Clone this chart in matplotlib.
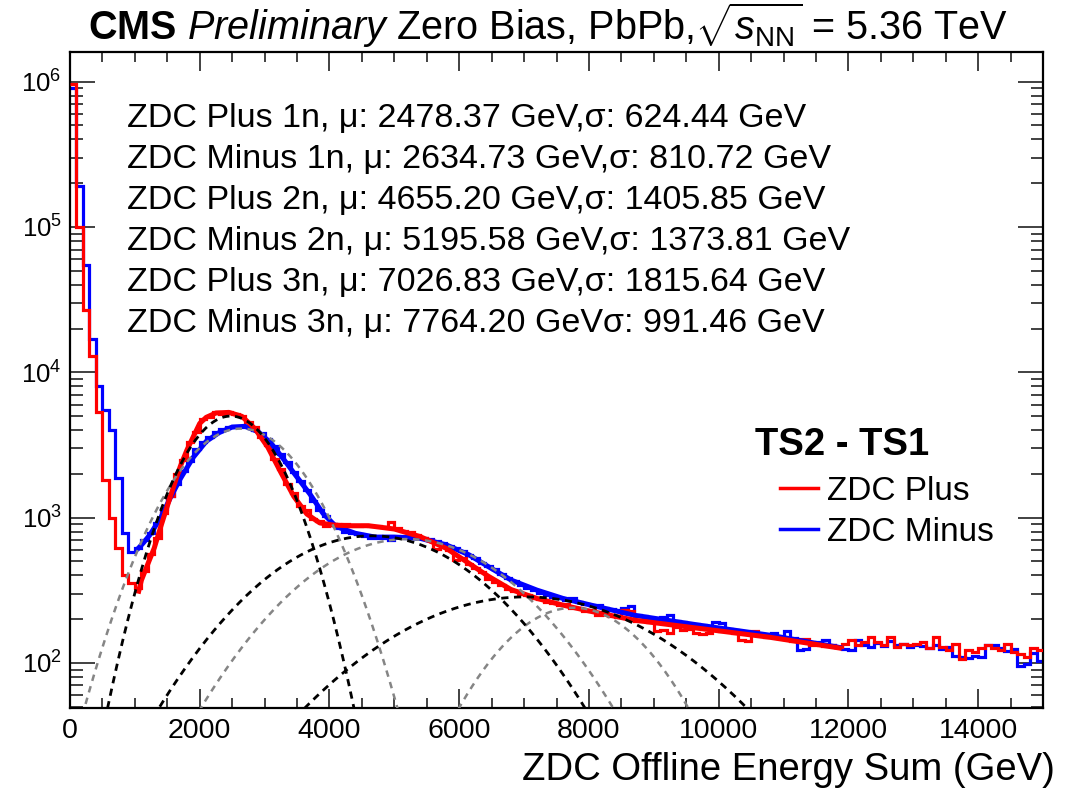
import numpy as np
import matplotlib
matplotlib.use("Agg")
import matplotlib.pyplot as plt
from matplotlib.lines import Line2D
from matplotlib.ticker import MultipleLocator, LogLocator, NullFormatter

plt.rcParams['font.family'] = ['Liberation Sans', 'DejaVu Sans']
plt.rcParams['mathtext.fontset'] = 'custom'
plt.rcParams['mathtext.rm'] = 'Liberation Sans'
plt.rcParams['mathtext.it'] = 'Liberation Sans:italic'
plt.rcParams['mathtext.bf'] = 'Liberation Sans:bold'

# histogram: 100 GeV bins from 0 to 15000 GeV
bin_edges = np.arange(0, 15001, 100)

plus_counts = [
    9.6e5, 1.0e5, 2.7e4, 1.29e4, 5300, 1820, 990, 615, 403, 353,
    330, 430, 560, 720, 1080, 1400, 2000, 2500, 3300, 3900,
    4750, 4950, 5300, 5200, 5350, 5150, 5000, 4550, 4200, 3600,
    3150, 2550, 2150, 1700, 1480, 1200, 1120, 980, 950, 880,
    910, 870, 900, 880, 870, 890, 875, 880, 860, 930,
    850, 810, 800, 760, 730, 700, 610, 640, 600, 510,
    530, 480, 450, 420, 380, 360, 345, 325, 315, 300,
    295, 278, 275, 262, 258, 250, 255, 238, 240, 228,
    230, 215, 225, 212, 208, 232, 228, 196, 198, 190,
    166, 168, 162, 178, 168, 170, 160, 158, 160, 170,
    165, 168, 160, 144, 142, 166, 156, 150, 152, 148,
    146, 142, 147, 147, 134, 136, 130, 132, 128, 136,
    143, 133, 140, 151, 140, 133, 151, 129, 136, 133,
    136, 140, 126, 151, 129, 122, 136, 107, 122, 119,
    126, 133, 126, 122, 136, 119, 116, 110, 126, 122,
]

minus_counts = [
    9.0e5, 1.9e5, 5.5e4, 1.7e4, 8100, 5500, 4000, 1880, 780, 580,
    620, 700, 780, 920, 1150, 1420, 1700, 2100, 2450, 2950,
    3300, 3600, 3900, 4050, 4200, 4250, 4220, 4250, 4000, 3800,
    3500, 3100, 2750, 2400, 2050, 1800, 1550, 1300, 1120, 1020,
    900, 850, 800, 780, 770, 745, 730, 720, 725, 700,
    740, 745, 735, 730, 720, 715, 690, 670, 640, 615,
    590, 555, 530, 490, 465, 440, 410, 385, 365, 345,
    330, 318, 305, 295, 285, 280, 270, 278, 262, 255,
    250, 252, 240, 235, 230, 240, 245, 215, 210, 205,
    200, 208, 215, 195, 192, 180, 185, 183, 180, 190,
    188, 172, 168, 163, 160, 158, 155, 156, 160, 152,
    165, 148, 122, 125, 138, 140, 145, 132, 128, 124,
    122, 145, 133, 128, 138, 130, 142, 132, 136, 128,
    133, 130, 126, 134, 124, 128, 112, 110, 108, 112,
    110, 133, 132, 126, 120, 124, 96, 98, 118, 104,
]

# total fit curves
plus_fit_e = [1050, 1100, 1200, 1300, 1400, 1500, 1600, 1700, 1800, 1900, 2000, 2100,
              2250, 2450, 2650, 2850, 3050, 3250, 3450, 3650, 3850, 4050, 4300, 4600,
              5000, 5400, 5800, 6150, 6450, 6800, 7200, 7600, 8000, 8700, 9700, 10800, 11900]
plus_fit_v = [300, 370, 480, 620, 870, 1200, 1650, 2250, 2900, 3600, 4450, 4900,
              5250, 5300, 4980, 4100, 3050, 2050, 1400, 1060, 920, 890, 880, 880,
              835, 740, 615, 485, 395, 320, 278, 250, 228, 197, 173, 150, 126]

minus_fit_e = [1030, 1130, 1230, 1400, 1550, 1700, 1900, 2100, 2300, 2500, 2700, 2900,
               3100, 3300, 3500, 3700, 3900, 4100, 4400, 4700, 5000, 5400, 5800, 6150,
               6450, 6800, 7200, 7600, 8000, 8700, 9700, 10800, 11900]
minus_fit_v = [600, 670, 760, 1000, 1380, 1850, 2600, 3350, 3850, 4200, 4250, 3900,
               3250, 2500, 1900, 1450, 1070, 870, 780, 735, 735, 720, 650, 555,
               460, 372, 317, 278, 252, 213, 182, 155, 127]

plus_mu = [2478.37, 4655.20, 7026.83]
plus_sigma = [624.44, 1405.85, 1815.64]
plus_amp = [5000, 750, 285]
minus_mu = [2634.73, 5195.58, 7764.20]
minus_sigma = [810.72, 1373.81, 991.46]
minus_amp = [4100, 712, 240]

labels = [
    "ZDC Plus 1n, \u03bc: 2478.37 GeV,\u03c3: 624.44 GeV",
    "ZDC Minus 1n, \u03bc: 2634.73 GeV,\u03c3: 810.72 GeV",
    "ZDC Plus 2n, \u03bc: 4655.20 GeV,\u03c3: 1405.85 GeV",
    "ZDC Minus 2n, \u03bc: 5195.58 GeV,\u03c3: 1373.81 GeV",
    "ZDC Plus 3n, \u03bc: 7026.83 GeV,\u03c3: 1815.64 GeV",
    "ZDC Minus 3n, \u03bc: 7764.20 GeV\u03c3: 991.46 GeV",
]

W, H = 1074, 795
fig = plt.figure(figsize=(W / 100, H / 100), dpi=100)
ax = fig.add_axes([70 / W, 1 - 708 / H, (1043 - 70) / W, (708 - 52) / H])


def fx(px):
    return px / W


def fy(py):
    return 1 - py / H


ax.stairs(minus_counts, bin_edges, baseline=None, color="blue", lw=2.3, zorder=2)
ax.stairs(plus_counts, bin_edges, baseline=None, color="red", lw=2.3, zorder=3)
ax.plot(minus_fit_e, minus_fit_v, color="blue", lw=3.6, zorder=4, solid_capstyle="butt")
ax.plot(plus_fit_e, plus_fit_v, color="red", lw=3.6, zorder=5, solid_capstyle="butt")

xx = np.linspace(0, 15000, 1500)
for mu, s, a in zip(minus_mu, minus_sigma, minus_amp):
    ax.plot(xx, a * np.exp(-0.5 * ((xx - mu) / s) ** 2), color="#858585",
            lw=1.8, ls=(0, (2.6, 2.2)), zorder=6)
for mu, s, a in zip(plus_mu, plus_sigma, plus_amp):
    ax.plot(xx, a * np.exp(-0.5 * ((xx - mu) / s) ** 2), color="black",
            lw=2.0, ls=(0, (2.6, 2.0)), zorder=7)

ax.set_yscale("log")
ax.set_xlim(0, 15000)
ax.set_ylim(49, 1.6e6)

ax.xaxis.set_major_locator(MultipleLocator(2000))
ax.xaxis.set_minor_locator(MultipleLocator(500))
ax.yaxis.set_major_locator(LogLocator(base=10, numticks=10))
ax.yaxis.set_minor_locator(LogLocator(base=10, subs=np.arange(2, 10), numticks=20))
ax.yaxis.set_minor_formatter(NullFormatter())

ax.tick_params(which="both", direction="in", top=True, right=True, width=1.3, color="#333333")
ax.tick_params(axis="x", which="major", length=14, pad=7)
ax.tick_params(axis="x", which="minor", length=7)
ax.tick_params(axis="y", which="major", length=18, pad=6)
ax.tick_params(axis="y", which="minor", length=9)
for lab in ax.get_xticklabels():
    lab.set_fontfamily(["Liberation Sans Narrow", "Liberation Sans"])
    lab.set_fontsize(20.5)
for lab in ax.get_yticklabels():
    lab.set_fontsize(18.5)
for sp in ax.spines.values():
    sp.set_linewidth(1.6)

fig.text(fx(548), fy(40),
         r"$\mathbf{CMS}$ $\mathit{Preliminary}$ Zero Bias, PbPb,$\sqrt{s_{\mathrm{NN}}}$ = 5.36 TeV",
         ha="center", va="baseline", fontsize=28.5)

for i, t in enumerate(labels):
    fig.text(fx(127), fy(127 + 41 * i), t, ha="left", va="baseline", fontsize=24.5)

fig.text(fx(755), fy(455), "TS2 - TS1", ha="left", va="baseline", fontsize=27.5, fontweight="bold")
handles = [Line2D([], [], color="red", lw=2.5, label="ZDC Plus"),
           Line2D([], [], color="blue", lw=2.5, label="ZDC Minus")]
ax.legend(handles=handles, loc="upper left", bbox_to_anchor=(fx(780), fy(476)),
          bbox_transform=fig.transFigure, frameon=False, fontsize=24,
          handlelength=1.15, handletextpad=0.25, labelspacing=0.3, borderpad=0, borderaxespad=0)

fig.text(fx(1055), fy(780), "ZDC Offline Energy Sum (GeV)", ha="right", va="baseline", fontsize=27.5)

fig.savefig("out.png", dpi=100)
